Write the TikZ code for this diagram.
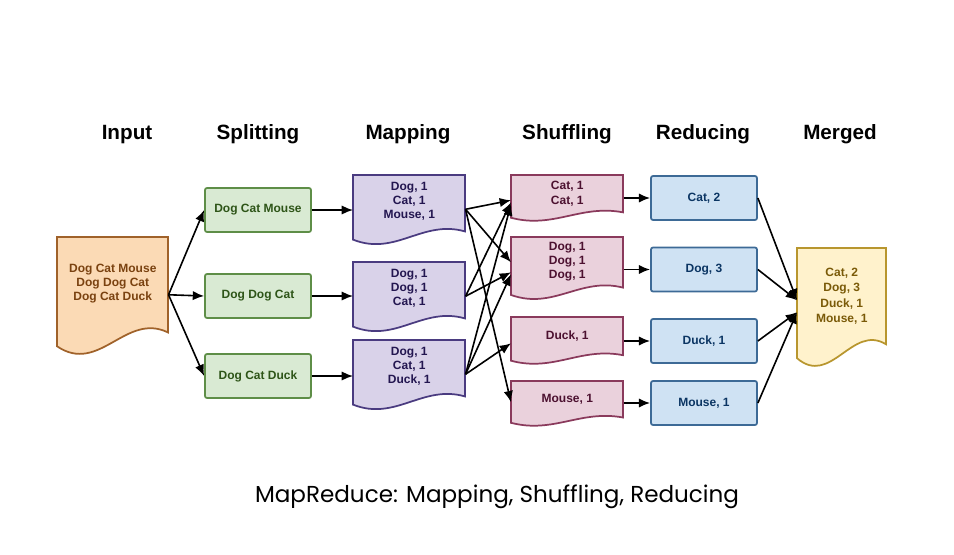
\documentclass[tikz,border=0pt]{standalone}
\usepackage{fontspec}
\setmainfont{Liberation Sans}
\newfontfamily\capfont{Poppins}
\usetikzlibrary{calc,arrows.meta}
\definecolor{inF}{HTML}{FBDAB5}\definecolor{inD}{HTML}{A0622A}\definecolor{inT}{HTML}{7A4210}
\definecolor{spF}{HTML}{D9EAD3}\definecolor{spD}{HTML}{5E8E47}\definecolor{spT}{HTML}{2E5518}
\definecolor{mpF}{HTML}{D9D2E9}\definecolor{mpD}{HTML}{4A3B80}\definecolor{mpT}{HTML}{231650}
\definecolor{shF}{HTML}{EAD1DC}\definecolor{shD}{HTML}{8A3A5C}\definecolor{shT}{HTML}{4C1130}
\definecolor{rdF}{HTML}{CFE2F3}\definecolor{rdD}{HTML}{3D6A96}\definecolor{rdT}{HTML}{0B3563}
\definecolor{mgF}{HTML}{FFF2CC}\definecolor{mgD}{HTML}{B8962E}\definecolor{mgT}{HTML}{7A5A08}
\tikzset{
  x=0.75pt, y=-0.75pt,
  boxtext/.style={font=\bfseries\fontsize{9}{10.6}\selectfont, align=center},
  header/.style={font=\bfseries\fontsize{15.5}{17}\selectfont, anchor=base},
  inshape/.style={fill=inF, draw=inD, line width=1.3pt},
  intext/.style={boxtext, text=inT},
  mpshape/.style={fill=mpF, draw=mpD, line width=1.3pt},
  mptext/.style={boxtext, text=mpT},
  shshape/.style={fill=shF, draw=shD, line width=1.3pt},
  shtext/.style={boxtext, text=shT},
  mgshape/.style={fill=mgF, draw=mgD, line width=1.3pt},
  mgtext/.style={boxtext, text=mgT, font=\bfseries\fontsize{9}{11.3}\selectfont},
  splitbox/.style={boxtext, text=spT, fill=spF, draw=spD, line width=1.3pt, rounded corners=1.5pt,
    minimum width=79.5pt, minimum height=33pt, inner sep=0pt},
  redbox/.style={boxtext, text=rdT, fill=rdF, draw=rdD, line width=1.3pt, rounded corners=1.5pt,
    minimum width=79.5pt, minimum height=33pt, inner sep=0pt},
  arr/.style={-{Latex[length=8.5pt,width=7pt]}, line width=1.2pt, black},
}
% name, x1, y1, x2, y2(lowest), shape style, text style, text shift (px, up), text
\newcommand\docbox[9]{%
  \pgfmathsetmacro\dw{(#4-#2)*0.75}%
  \pgfmathsetmacro\dh{(#5-#3)*0.75}%
  \pgfmathsetmacro\dR{#5-0.17*(#5-#3)}%
  \pgfmathsetmacro\dL{#5-0.05*(#5-#3)}%
  \pgfmathsetmacro\cA{#2+0.62*(#4-#2)}%
  \pgfmathsetmacro\cB{#2+0.38*(#4-#2)}%
  \pgfmathsetmacro\yA{#5-0.35*(#5-#3)}%
  \pgfmathsetmacro\yB{#5+0.20*(#5-#3)}%
  \path[#6] (#2,#3) -- (#4,#3) -- (#4,\dR) .. controls (\cA,\yA) and (\cB,\yB) .. (#2,\dL) -- cycle;
  \node[minimum width=\dw pt, minimum height=\dh pt, inner sep=0pt, anchor=north west] (#1) at (#2,#3) {};
  \node[#7] (#1-t) at ($(#1.center)+(0,-#8)$) {#9};
}
\begin{document}
\begin{tikzpicture}
\useasboundingbox[fill=white] (0,0) rectangle (954,554);
% headers
\node[header] (h1) at (127,139) {Input};
\node[header] (h2) at (258,139) {Splitting};
\node[header] (h3) at (408,139) {Mapping};
\node[header] (h4) at (567,139) {Shuffling};
\node[header] (h5) at (703,139) {Reducing};
\node[header] (h6) at (840,139) {Merged};
% input
\docbox{in}{57}{237}{168}{352}{inshape}{intext}{11}{Dog Cat Mouse\\Dog Dog Cat\\Dog Cat Duck}
% splitting
\node[splitbox] (sp1) at (258,210) {Dog Cat Mouse};
\node[splitbox] (sp2) at (258,296) {Dog Dog Cat};
\node[splitbox] (sp3) at (258,376) {Dog Cat Duck};
% mapping
\docbox{m1}{353}{175}{465}{243}{mpshape}{mptext}{8}{Dog, 1\\Cat, 1\\Mouse, 1}
\docbox{m2}{353}{262}{465}{330}{mpshape}{mptext}{8}{Dog, 1\\Dog, 1\\Cat, 1}
\docbox{m3}{353}{340}{465}{408}{mpshape}{mptext}{8}{Dog, 1\\Cat, 1\\Duck, 1}
% shuffling
\docbox{s1}{511}{175}{623}{220}{shshape}{shtext}{4}{Cat, 1\\Cat, 1}
\docbox{s2}{511}{237}{623}{298}{shshape}{shtext}{6}{Dog, 1\\Dog, 1\\Dog, 1}
\docbox{s3}{511}{317}{623}{363}{shshape}{shtext}{4}{Duck, 1}
\docbox{s4}{511}{381}{623}{425}{shshape}{shtext}{4}{Mouse, 1}
% reducing
\node[redbox] (r1) at (704,198) {Cat, 2};
\node[redbox] (r2) at (704,269.5) {Dog, 3};
\node[redbox] (r3) at (704,341) {Duck, 1};
\node[redbox] (r4) at (704,403) {Mouse, 1};
% merged
\docbox{mg}{797}{248}{886}{364}{mgshape}{mgtext}{10}{Cat, 2\\Dog, 3\\Duck, 1\\Mouse, 1}
% caption
\node[font=\capfont\fontsize{17.3}{20}\selectfont, anchor=base] (cap) at (497,502) {MapReduce: Mapping, Shuffling, Reducing};
% arrows input -> split
\draw[arr] (in.east) -- (sp1.west);
\draw[arr] (in.east) -- (sp2.west);
\draw[arr] (in.east) -- (sp3.west);
% split -> map
\draw[arr] (sp1.east) -- (sp1.east -| m1.west);
\draw[arr] (sp2.east) -- (sp2.east -| m2.west);
\draw[arr] (sp3.east) -- (sp3.east -| m3.west);
% map -> shuffle
\draw[arr] (m1.east) -- ($(s1.west)+(0,2.5)$);
\draw[arr] (m1.east) -- ($(s2.west)+(0,-5.5)$);
\draw[arr] (m1.east) -- ($(s4.west)+(0,-1)$);
\draw[arr] (m2.east) -- ($(s1.west)+(0,4.5)$);
\draw[arr] (m2.east) -- ($(s2.west)+(0,4.5)$);
\draw[arr] (m3.east) -- ($(s1.west)+(0,6.5)$);
\draw[arr] (m3.east) -- ($(s2.west)+(0,6.5)$);
\draw[arr] (m3.east) -- ($(s3.west)+(0,3)$);
% shuffle -> reduce
\draw[arr] (s1.east |- r1.west) -- (r1.west);
\draw[arr] (s2.east |- r2.west) -- (r2.west);
\draw[arr] (s3.east |- r3.west) -- (r3.west);
\draw[arr] (s4.east |- r4.west) -- (r4.west);
% reduce -> merged
\draw[arr] (r1.east) -- ($(mg.west)+(0,-6)$);
\draw[arr] (r2.east) -- ($(mg.west)+(0,-6)$);
\draw[arr] (r3.east) -- ($(mg.west)+(0,6)$);
\draw[arr] (r4.east) -- ($(mg.west)+(0,6)$);
\end{tikzpicture}
\end{document}
